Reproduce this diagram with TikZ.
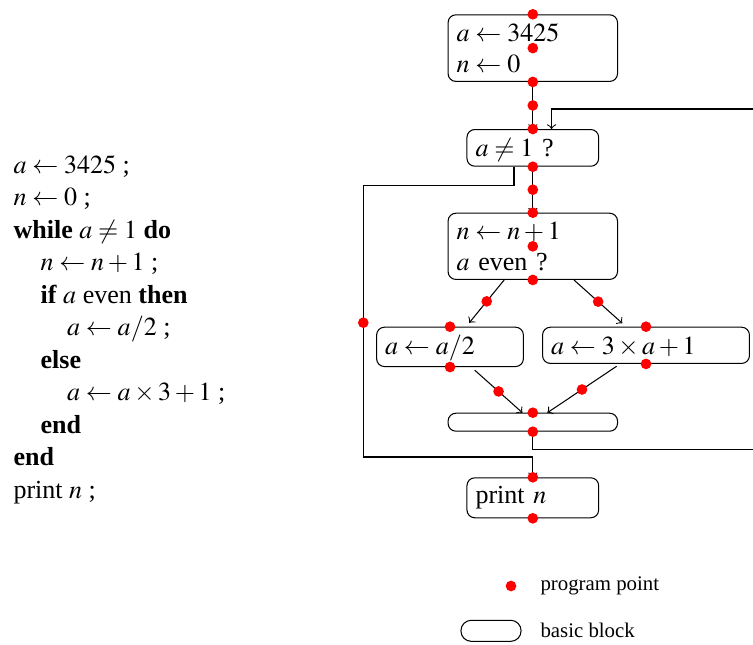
\documentclass[tikz,border=0pt]{standalone}
\usepackage{mathptmx}
\usepackage{fontspec}
\setmainfont{Liberation Serif}
\usepackage{tikz}
\usetikzlibrary{arrows}
\tikzstyle{block} = [rectangle, rounded corners=3pt, draw=black, fill=white, inner xsep=3.3pt, inner ysep=3.3pt, align=left, anchor=north]
\tikzstyle{ppoint} = [circle, fill=red, inner sep=0pt, minimum size=4.1pt]
\tikzstyle{arrow} = [->,>=to]
\tikzstyle{legend} = [anchor=base west, inner sep=0pt, font=\footnotesize]

\begin{document}
\begin{tikzpicture}[x=0.0135cm, y=-0.0135cm]
    \useasboundingbox (0,0) rectangle (753,644);
    % the program
    \node (code) [anchor=base west, inner sep=0pt, align=left, font=\fontsize{10}{12.5}\selectfont] at (13,498.5) {$a \leftarrow 3425$ ;\\
        $n \leftarrow 0$ ;\\
        \textbf{while} $a \neq 1$ \textbf{do}\\
        \hspace*{10.4pt}$n \leftarrow n + 1$ ;\\
        \hspace*{10.4pt}\textbf{if} $a$ even \textbf{then}\\
        \hspace*{20.6pt}$a \leftarrow a/2$ ;\\
        \hspace*{10.4pt}\textbf{else}\\
        \hspace*{20.6pt}$a \leftarrow a \times 3 + 1$ ;\\
        \hspace*{10.4pt}\textbf{end}\\
        \textbf{end}\\
        print $n$ ;};
    % the graph
    \node (init) [block, text width=58.5pt] at (532.8,14.3) {$a \leftarrow 3425$\\ $n \leftarrow 0$};
    \node (cond) [block, text width=44pt, text height=7pt, text depth=0.5pt] at (532.8,129) {$a \neq 1$ ?};
    \node (body) [block, text width=58.5pt] at (532.8,212.7) {$n \leftarrow n + 1$\\ $a$ even ?};
    \node (half) [block, text width=49.8pt, text height=7pt, text depth=1.5pt] at (450,326.7) {$a \leftarrow a/2$};
    \node (triple) [block, text width=72.9pt, text height=7pt, text depth=0.3pt] at (646,326.7) {$a \leftarrow 3 \times a + 1$};
    \node (join) [block, text width=58.5pt, minimum height=6.9pt] at (532.8,412.7) {};
    \node (exit) [block, text width=44pt] at (532.8,477.3) {print $n$};
    \draw [arrow] (init) -- node (p1) [ppoint] {} (cond);
    \draw [arrow] (cond) -- node (p2) [ppoint] {} (body);
    \draw [arrow] ([xshift=-11pt]body.south) -- node (p3) [ppoint] {} ([xshift=7.4pt,yshift=1.5pt]half.north);
    \draw [arrow] ([xshift=15.8pt]body.south) -- node (p4) [ppoint] {} ([xshift=-9.1pt,yshift=1.3pt]triple.north);
    \draw [arrow] ([xshift=9.5pt,yshift=-1.2pt]half.south) -- node (p5) [ppoint] {} ([xshift=-4pt]join.north);
    \draw [arrow] ([xshift=-11.3pt,yshift=-0.9pt]triple.south) -- node (p6) [ppoint] {} ([xshift=5.6pt]join.north);
    % back edge of the loop
    \coordinate (backlow) at (760,449.3);
    \coordinate (backhigh) at (760,109);
    \draw [arrow] (join.south) |- (backlow) -- (backhigh) -| ([xshift=7.2pt]cond.north);
    % loop exit
    \coordinate (exitturn) at (514,185.7);
    \coordinate (exitlow) at (363.3,457);
    \draw [arrow] (cond.south -| exitturn) -- (exitturn) -| (exitlow) -| (exit.north);
    \node (p7) [ppoint] at (363.3,322.7) {};
    % program points on the blocks
    \node (initin) [ppoint] at (init.north) {};
    \node (initmid) [ppoint] at (init.center) {};
    \node (initout) [ppoint] at (init.south) {};
    \node (condin) [ppoint] at (cond.north) {};
    \node (condout) [ppoint] at (cond.south) {};
    \node (bodyin) [ppoint] at (body.north) {};
    \node (bodymid) [ppoint] at (body.center) {};
    \node (bodyout) [ppoint] at (body.south) {};
    \node (halfin) [ppoint] at (half.north) {};
    \node (halfout) [ppoint] at (half.south) {};
    \node (triplein) [ppoint] at (triple.north) {};
    \node (tripleout) [ppoint] at (triple.south) {};
    \node (joinin) [ppoint] at (join.north) {};
    \node (joinout) [ppoint] at (join.south) {};
    \node (exitin) [ppoint] at (exit.north) {};
    \node (exitout) [ppoint] at (exit.south) {};
    % legend
    \node (legpt) [ppoint] at (511,586) {};
    \node (legpttext) [legend] at (540,590) {program point};
    \node (legblk) [block, anchor=center, inner sep=0pt, minimum width=23.1pt, minimum height=8.1pt, rounded corners=4pt] at (491,630.8) {};
    \node (legblktext) [legend] at (540,637.3) {basic block};
\end{tikzpicture}
\end{document}
